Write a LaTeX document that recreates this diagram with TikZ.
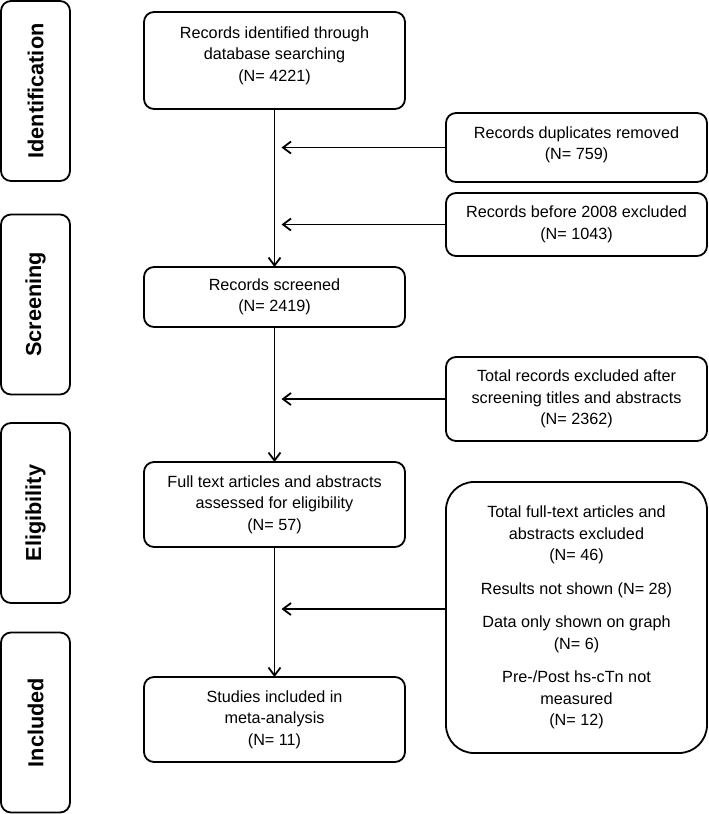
\documentclass[tikz,border=0pt]{standalone}
\usepackage{fontspec}
\setmainfont{Liberation Sans}
\usetikzlibrary{arrows.meta,positioning}

\begin{document}
\begin{tikzpicture}[x=1pt, y=-1pt, line width=1.8pt, >={Straight Barb[length=8pt,width=12pt]},
  font=\fontsize{16.2}{21.5}\selectfont,
  every node/.style={align=center, outer sep=0pt},
  stage/.style={draw, rounded corners=10pt, rotate=90, minimum width=180pt, minimum height=69pt, font=\fontsize{21.7}{26}\selectfont\bfseries},
  flowbox/.style={draw, rounded corners=10pt, minimum width=261pt, inner sep=2pt}]
  \useasboundingbox (0,0) rectangle (709,814);

  % Stages
  \node[stage] (identification) at (35.5,91) {Identification};
  \node[stage] (screening) at (35.5,304.5) {Screening};
  \node[stage] (eligibility) at (35.5,513) {Eligibility};
  \node[stage] (included) at (35.5,722.5) {Included};

  % Main column
  \node[flowbox, minimum height=97pt] (found) at (274.5,60.5) {Records identified through\\database searching\\(N= 4221)\\[-8.5pt]\mbox{}};
  \node[flowbox, minimum height=60pt, below=158pt of found] (screened) {Records screened\\(N= 2419)};
  \node[flowbox, minimum height=85pt, below=135pt of screened] (fulltext) {Full text articles and abstracts\\assessed for eligibility\\(N= 57)};
  \node[flowbox, minimum height=85pt, below=130pt of fulltext] (studies) {Studies included in\\meta-analysis\\(N= 11)};

  % Exclusions
  \node[flowbox, minimum height=69pt] (dupl) at (576.5,147.5) {Records duplicates removed\\(N= 759)\\[-12.5pt]\mbox{}};
  \node[flowbox, minimum height=63pt] (pre2008) at (576.5,224.5) {Records before 2008 excluded\\(N= 1043)};
  \node[flowbox, minimum height=84pt] (titles) at (576.5,399) {Total records excluded after\\screening titles and abstracts\\(N= 2362)};
  \node[flowbox, minimum height=271pt, rounded corners=28pt] (fullexcl) at (576.5,617.5) {Total full-text articles and\\abstracts excluded\\(N= 46)\\[12pt]Results not shown (N= 28)\\[12pt]Data only shown on graph\\(N= 6)\\[12pt]Pre-/Post hs-cTn not\\measured\\(N= 12)};

  % Arrows
  \draw[->] (found) -- (screened);
  \draw[->] (screened) -- (fulltext);
  \draw[->] (fulltext) -- (studies);
  \draw[->, shorten >=7pt] (dupl.west) -- (dupl.west -| found.south);
  \draw[->, shorten >=7pt] (pre2008.west) -- (pre2008.west -| found.south);
  \draw[->, shorten >=7pt] (titles.west) -- (titles.west -| found.south);
  \draw[->, shorten >=7pt] ([yshift=8.5pt]fullexcl.west) -- ([yshift=8.5pt]fullexcl.west -| found.south);
\end{tikzpicture}
\end{document}
